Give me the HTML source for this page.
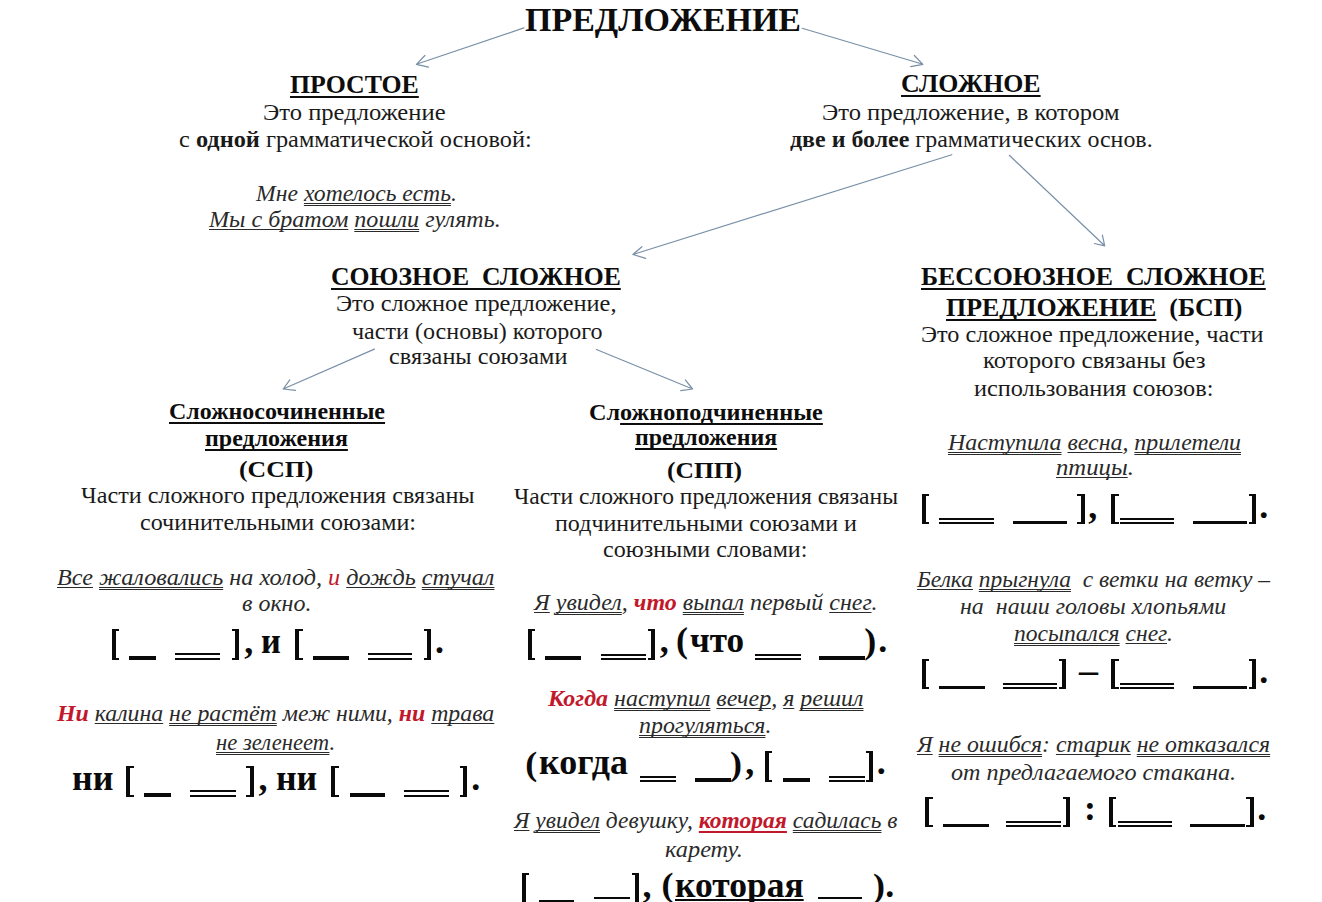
<!DOCTYPE html>
<html lang="ru"><head><meta charset="utf-8"><title>Предложение</title><style>
html,body{margin:0;padding:0;}
body{width:1322px;height:902px;background:#fff;position:relative;overflow:hidden;font-family:"Liberation Serif",serif;color:#111;}
.l{position:absolute;white-space:nowrap;line-height:1;transform-origin:0 0;margin:0;}
.n{font-weight:normal;color:#1a1a1a;}
.b{font-weight:bold;color:#0d0d0d;}
.i{font-style:italic;color:#2a2a2a;}
.i b{font-weight:bold;}
u{text-decoration:none;}
u.h{text-decoration:underline;text-decoration-thickness:2px;text-underline-offset:3px;text-decoration-skip-ink:none;}
u.h2{text-decoration:underline;text-decoration-thickness:2px;text-underline-offset:4.5px;text-decoration-skip-ink:none;}
u.s{text-decoration:underline;text-decoration-thickness:1px;text-underline-offset:1.8px;text-decoration-skip-ink:none;}
u.d{text-decoration:underline double;text-decoration-thickness:1px;text-underline-offset:1.5px;text-decoration-skip-ink:none;}
.r{color:#c2182b;}
.ru{text-decoration:underline;text-decoration-thickness:2px;text-underline-offset:3.2px;text-decoration-skip-ink:none;}
.g{font-weight:bold;color:#0a0a0a;}
.gu{text-decoration:underline;text-decoration-thickness:2px;text-underline-offset:2px;text-decoration-skip-ink:none;}
.bar{position:absolute;background:#0a0a0a;}
.brk{position:absolute;width:7.6px;box-sizing:border-box;border-top:2px solid #0a0a0a;border-bottom:2px solid #0a0a0a;}
.dbl{position:absolute;border-top:2px solid #0a0a0a;border-bottom:2px solid #0a0a0a;box-sizing:border-box;}
svg{position:absolute;left:0;top:0;}
</style></head><body>
<svg width="1322" height="902" viewBox="0 0 1322 902"><g stroke="#7890a8" stroke-width="1.2" fill="none" stroke-linecap="round" stroke-linejoin="round"><path d="M523.9 27.9L416.4 64.3M424.9 55.5L416.4 64.3L428.6 67.1"/><path d="M802.2 28.3L922.9 64.3M914.4 55.5L922.9 64.3L910.7 66.6"/><path d="M951.8 154.7L632.9 254.5M641.9 246.7L632.9 254.5L645.7 258.3"/><path d="M1009.3 155.3L1104.7 245.8M1102.4 235.1L1104.7 245.8L1094.4 243.5"/><path d="M374.4 349.1L283.2 389.0M289.8 379.9L283.2 389.0L295.4 390.4"/><path d="M596.4 349.5L692.6 389.0M685.3 379.9L692.6 389.0L680.8 390.6"/></g></svg>
<div class="l b" id="t0" style="left:524.73px;top:3.01px;font-size:33.80px;transform:scaleX(1.0057);">ПРЕДЛОЖЕНИЕ</div>
<div class="l b" id="a1" style="left:290.10px;top:71.81px;font-size:26.20px;transform:scaleX(0.9849);"><u class=h>ПРОСТОЕ</u></div>
<div class="l n" id="a2" style="left:263.28px;top:101.90px;font-size:22.50px;transform:scaleX(1.0937);">Это предложение</div>
<div class="l n" id="a3" style="left:179.20px;top:129.31px;font-size:22.50px;transform:scaleX(1.0813);">с <b>одной</b> грамматической основой:</div>
<div class="l i" id="a4" style="left:255.93px;top:183.21px;font-size:22.50px;transform:scaleX(1.0522);">Мне <u class=d>хотелось есть</u>.</div>
<div class="l i" id="a5" style="left:209.04px;top:209.40px;font-size:22.50px;transform:scaleX(1.0710);"><u class=s>Мы с братом</u> <u class=d>пошли</u> гулять.</div>
<div class="l b" id="b1" style="left:900.70px;top:71.21px;font-size:26.20px;transform:scaleX(0.9859);"><u class=h>СЛОЖНОЕ</u></div>
<div class="l n" id="b2" style="left:821.81px;top:101.61px;font-size:22.50px;transform:scaleX(1.0927);">Это предложение, в котором</div>
<div class="l n" id="b3" style="left:789.62px;top:128.90px;font-size:22.50px;transform:scaleX(1.0635);"><b>две и более</b> грамматических основ.</div>
<div class="l b" id="c1" style="left:331.20px;top:263.61px;font-size:26.20px;transform:scaleX(0.9807);"><u class=h>СОЮЗНОЕ&nbsp; СЛОЖНОЕ</u></div>
<div class="l n" id="c2" style="left:336.42px;top:293.11px;font-size:22.50px;transform:scaleX(1.0822);">Это сложное предложение,</div>
<div class="l n" id="c3" style="left:351.64px;top:320.61px;font-size:22.50px;transform:scaleX(1.0703);">части (основы) которого</div>
<div class="l n" id="c4" style="left:388.62px;top:346.01px;font-size:22.50px;transform:scaleX(1.0777);">связаны союзами</div>
<div class="l b" id="d1" style="left:921.40px;top:264.21px;font-size:26.20px;transform:scaleX(0.9874);"><u class=h>БЕССОЮЗНОЕ&nbsp; СЛОЖНОЕ</u></div>
<div class="l b" id="d2" style="left:945.60px;top:295.01px;font-size:26.20px;transform:scaleX(0.9892);"><u class=h>ПРЕДЛОЖЕНИЕ</u>&nbsp; (БСП)</div>
<div class="l n" id="d3" style="left:921.17px;top:323.81px;font-size:22.50px;transform:scaleX(1.0773);">Это сложное предложение, части</div>
<div class="l n" id="d4" style="left:982.96px;top:350.41px;font-size:22.50px;transform:scaleX(1.1010);">которого связаны без</div>
<div class="l n" id="d5" style="left:974.25px;top:378.00px;font-size:22.50px;transform:scaleX(1.0793);">использования союзов:</div>
<div class="l i" id="d6" style="left:947.57px;top:432.30px;font-size:22.50px;transform:scaleX(1.0605);"><u class=d>Наступила</u> <u class=s>весна</u>, <u class=d>прилетели</u></div>
<div class="l i" id="d7" style="left:1055.55px;top:457.40px;font-size:22.50px;transform:scaleX(1.0988);"><u class=s>птицы</u>.</div>
<div class="l i" id="d9" style="left:916.86px;top:569.31px;font-size:22.50px;transform:scaleX(1.0418);"><u class=s>Белка</u> <u class=d>прыгнула</u>&nbsp; с ветки на ветку –</div>
<div class="l i" id="d10" style="left:960.00px;top:596.41px;font-size:22.50px;transform:scaleX(1.0635);">на&nbsp; наши головы хлопьями</div>
<div class="l i" id="d11" style="left:1014.41px;top:623.11px;font-size:22.50px;transform:scaleX(1.0479);"><u class=d>посыпался</u> <u class=s>снег</u>.</div>
<div class="l i" id="d13" style="left:917.27px;top:734.31px;font-size:22.50px;transform:scaleX(1.0581);"><u class=s>Я</u> <u class=d>не ошибся</u>: <u class=s>старик</u> <u class=d>не отказался</u></div>
<div class="l i" id="d14" style="left:950.60px;top:761.71px;font-size:22.50px;transform:scaleX(1.0735);">от предлагаемого стакана.</div>
<div class="l b" id="e1" style="left:168.72px;top:400.41px;font-size:23.00px;transform:scaleX(1.0418);"><u class=h>Сложносочиненные</u></div>
<div class="l b" id="e2" style="left:204.58px;top:427.10px;font-size:23.00px;transform:scaleX(1.0434);"><u class=h>предложения</u></div>
<div class="l b" id="e3" style="left:239.18px;top:457.21px;font-size:24.00px;transform:scaleX(1.0736);">(ССП)</div>
<div class="l n" id="e4" style="left:80.50px;top:485.00px;font-size:22.50px;transform:scaleX(1.0732);">Части сложного предложения связаны</div>
<div class="l n" id="e5" style="left:139.63px;top:512.00px;font-size:22.50px;transform:scaleX(1.0700);">сочинительными союзами:</div>
<div class="l i" id="e6" style="left:56.58px;top:566.60px;font-size:22.50px;transform:scaleX(1.0761);"><u class=s>Все</u> <u class=d>жаловались</u> на холод, <span class=r>и</span> <u class=s>дождь</u> <u class=d>стучал</u></div>
<div class="l i" id="e7" style="left:241.69px;top:592.80px;font-size:22.50px;transform:scaleX(1.0651);">в окно.</div>
<div class="l i" id="e9" style="left:56.75px;top:702.50px;font-size:22.50px;transform:scaleX(1.0582);"><b class=r>Ни</b> <u class=s>калина</u> <u class=d>не растёт</u> меж ними, <b class=r>ни</b> <u class=s>трава</u></div>
<div class="l i" id="e10" style="left:215.70px;top:731.60px;font-size:22.50px;transform:scaleX(1.0067);"><u class=d>не зеленеет</u>.</div>
<div class="l b" id="f1" style="left:588.60px;top:400.81px;font-size:23.00px;transform:scaleX(1.0537);">Сл<u class=h>ожноподчиненные</u></div>
<div class="l b" id="f2" style="left:635.28px;top:426.21px;font-size:23.00px;transform:scaleX(1.0376);"><u class=h>предложения</u></div>
<div class="l b" id="f3" style="left:667.43px;top:458.01px;font-size:24.00px;transform:scaleX(1.0626);">(СПП)</div>
<div class="l n" id="f4" style="left:513.74px;top:485.60px;font-size:22.50px;transform:scaleX(1.0471);">Части сложного предложения связаны</div>
<div class="l n" id="f5" style="left:554.62px;top:512.80px;font-size:22.50px;transform:scaleX(1.0676);">подчинительными союзами и</div>
<div class="l n" id="f6" style="left:602.93px;top:539.01px;font-size:22.50px;transform:scaleX(1.0684);">союзными словами:</div>
<div class="l i" id="f7" style="left:533.98px;top:592.31px;font-size:22.50px;transform:scaleX(1.0666);"><u class=s>Я</u> <u class=d>увидел</u>, <b class=r>что</b> <u class=d>выпал</u> первый <u class=s>снег</u>.</div>
<div class="l i" id="f9" style="left:547.93px;top:688.01px;font-size:22.50px;transform:scaleX(1.0655);"><b class=r>Когда</b> <u class=d>наступил</u> <u class=s>вечер</u>, <u class=s>я</u> <u class=d>решил</u></div>
<div class="l i" id="f10" style="left:639.41px;top:714.50px;font-size:22.50px;transform:scaleX(1.0615);"><u class=d>прогуляться</u>.</div>
<div class="l i" id="f12" style="left:514.44px;top:809.81px;font-size:22.50px;transform:scaleX(1.0444);"><u class=s>Я</u> <u class=d>увидел</u> девушку, <b class='r ru'>которая</b> <u class=d>садилась</u> в</div>
<div class="l i" id="f13" style="left:665.06px;top:838.91px;font-size:22.50px;transform:scaleX(1.0821);">карету.</div>
<div class="brk" style="left:111.5px;top:628.7px;height:30.9px;border-left:4px solid #0a0a0a"></div>
<div class="brk" style="left:231.5px;top:628.7px;height:30.9px;border-right:4px solid #0a0a0a"></div>
<div class="l g" id="e8_2" style="left:244.34px;top:622.51px;font-size:36.00px;">,</div>
<div class="l g" id="e8_3" style="left:260.80px;top:622.51px;font-size:36.00px;transform:scale(0.9566,1.0000);">и</div>
<div class="brk" style="left:295.1px;top:628.7px;height:30.9px;border-left:4px solid #0a0a0a"></div>
<div class="brk" style="left:423.7px;top:628.7px;height:30.9px;border-right:4px solid #0a0a0a"></div>
<div class="l g" id="e8_6" style="left:435.02px;top:622.51px;font-size:36.00px;">.</div>
<div class="bar" style="left:128.7px;top:656.0px;width:27.6px;height:3.6px"></div>
<div class="dbl" style="left:175.0px;top:653.4px;width:45.0px;height:6.2px"></div>
<div class="bar" style="left:312.8px;top:656.0px;width:36.2px;height:3.6px"></div>
<div class="dbl" style="left:367.7px;top:653.4px;width:44.8px;height:6.2px"></div>
<div class="l g" id="e11_0" style="left:72.31px;top:759.61px;font-size:36.00px;transform:scale(0.9977,1.0000);">ни</div>
<div class="brk" style="left:126.2px;top:766.3px;height:30.3px;border-left:4px solid #0a0a0a"></div>
<div class="brk" style="left:246.0px;top:766.3px;height:30.3px;border-right:4px solid #0a0a0a"></div>
<div class="l g" id="e11_3" style="left:258.57px;top:759.61px;font-size:36.00px;">,</div>
<div class="l g" id="e11_4" style="left:275.92px;top:759.61px;font-size:36.00px;transform:scale(0.9942,1.0000);">ни</div>
<div class="brk" style="left:331.2px;top:766.3px;height:30.3px;border-left:4px solid #0a0a0a"></div>
<div class="brk" style="left:459.7px;top:766.3px;height:30.3px;border-right:4px solid #0a0a0a"></div>
<div class="l g" id="e11_7" style="left:471.17px;top:759.61px;font-size:36.00px;">.</div>
<div class="bar" style="left:144.0px;top:793.0px;width:27.2px;height:3.6px"></div>
<div class="dbl" style="left:190.3px;top:790.4px;width:46.1px;height:6.2px"></div>
<div class="bar" style="left:349.5px;top:793.0px;width:35.3px;height:3.6px"></div>
<div class="dbl" style="left:404.0px;top:790.4px;width:44.9px;height:6.2px"></div>
<div class="brk" style="left:527.9px;top:628.6px;height:31.2px;border-left:4px solid #0a0a0a"></div>
<div class="brk" style="left:647.8px;top:628.6px;height:31.2px;border-right:4px solid #0a0a0a"></div>
<div class="l g" id="f8_2" style="left:659.82px;top:622.21px;font-size:36.00px;">,</div>
<div class="l g" id="f8_3" style="left:676.01px;top:622.85px;font-size:36.00px;transform:scale(1.0000,0.9786);">(</div>
<div class="l g" id="f8_4" style="left:689.96px;top:622.21px;font-size:36.00px;transform:scale(0.9761,1.0000);">что</div>
<div class="l g" id="f8_5" style="left:864.28px;top:622.80px;font-size:36.00px;transform:scale(1.0000,0.9936);">)</div>
<div class="l g" id="f8_6" style="left:878.34px;top:622.21px;font-size:36.00px;">.</div>
<div class="bar" style="left:545.3px;top:656.2px;width:36.0px;height:3.6px"></div>
<div class="dbl" style="left:600.5px;top:653.6px;width:45.8px;height:6.2px"></div>
<div class="dbl" style="left:755.0px;top:653.6px;width:46.2px;height:6.2px"></div>
<div class="bar" style="left:818.9px;top:656.2px;width:46.6px;height:3.6px"></div>
<div class="l g" id="f11_0" style="left:525.32px;top:746.87px;font-size:36.00px;transform:scale(1.0000,0.9288);">(</div>
<div class="l g" id="f11_1" style="left:538.71px;top:744.01px;font-size:36.00px;transform:scale(0.9992,1.0000);">когда</div>
<div class="l g" id="f11_2" style="left:730.06px;top:746.17px;font-size:36.00px;transform:scale(1.0000,0.9570);">)</div>
<div class="l g" id="f11_3" style="left:745.34px;top:744.01px;font-size:36.00px;">,</div>
<div class="brk" style="left:764.9px;top:751.3px;height:30.5px;border-left:4px solid #0a0a0a"></div>
<div class="brk" style="left:865.5px;top:751.3px;height:30.5px;border-right:4px solid #0a0a0a"></div>
<div class="l g" id="f11_6" style="left:876.64px;top:744.01px;font-size:36.00px;">.</div>
<div class="dbl" style="left:640.3px;top:775.6px;width:35.8px;height:6.2px"></div>
<div class="bar" style="left:695.0px;top:778.2px;width:35.8px;height:3.6px"></div>
<div class="bar" style="left:783.0px;top:778.2px;width:27.3px;height:3.6px"></div>
<div class="dbl" style="left:828.9px;top:775.6px;width:36.3px;height:6.2px"></div>
<div class="brk" style="left:521.6px;top:873.4px;height:30.8px;border-left:4px solid #0a0a0a"></div>
<div class="brk" style="left:631.8px;top:873.4px;height:30.8px;border-right:4px solid #0a0a0a"></div>
<div class="l g" id="f14_2" style="left:642.61px;top:867.21px;font-size:36.00px;">,</div>
<div class="l g" id="f14_3" style="left:661.38px;top:867.05px;font-size:36.00px;transform:scale(1.0000,0.9500);">(</div>
<div class="l g gu" id="f14_4" style="left:675.30px;top:867.21px;font-size:36.00px;transform:scale(0.9862,1.0000);">которая</div>
<div class="l g" id="f14_5" style="left:873.12px;top:867.84px;font-size:36.00px;transform:scale(1.0000,0.9500);">)</div>
<div class="l g" id="f14_6" style="left:885.17px;top:867.21px;font-size:36.00px;">.</div>
<div class="bar" style="left:539.2px;top:900.0px;width:35.1px;height:3.6px"></div>
<div class="dbl" style="left:594.0px;top:897.4px;width:36.3px;height:6.2px"></div>
<div class="dbl" style="left:817.9px;top:897.4px;width:44.5px;height:6.2px"></div>
<div class="brk" style="left:921.5px;top:493.9px;height:30.6px;border-left:4px solid #0a0a0a"></div>
<div class="brk" style="left:1077.4px;top:493.9px;height:30.6px;border-right:4px solid #0a0a0a"></div>
<div class="l g" id="d8_2" style="left:1088.34px;top:487.51px;font-size:36.00px;">,</div>
<div class="brk" style="left:1111.3px;top:493.9px;height:30.6px;border-left:4px solid #0a0a0a"></div>
<div class="brk" style="left:1248.8px;top:493.9px;height:30.6px;border-right:4px solid #0a0a0a"></div>
<div class="l g" id="d8_5" style="left:1259.17px;top:487.51px;font-size:36.00px;">.</div>
<div class="dbl" style="left:938.7px;top:518.3px;width:54.9px;height:6.2px"></div>
<div class="bar" style="left:1012.8px;top:520.9px;width:54.6px;height:3.6px"></div>
<div class="dbl" style="left:1120.2px;top:518.3px;width:53.4px;height:6.2px"></div>
<div class="bar" style="left:1192.8px;top:520.9px;width:54.6px;height:3.6px"></div>
<div class="brk" style="left:921.5px;top:658.9px;height:30.6px;border-left:4px solid #0a0a0a"></div>
<div class="brk" style="left:1058.7px;top:658.9px;height:30.6px;border-right:4px solid #0a0a0a"></div>
<div class="l g" id="d12_2" style="left:1079.00px;top:651.90px;font-size:36.00px;transform:scale(1.0538,1.0000);">–</div>
<div class="brk" style="left:1111.3px;top:658.9px;height:30.6px;border-left:4px solid #0a0a0a"></div>
<div class="brk" style="left:1248.8px;top:658.9px;height:30.6px;border-right:4px solid #0a0a0a"></div>
<div class="l g" id="d12_5" style="left:1259.17px;top:652.51px;font-size:36.00px;">.</div>
<div class="bar" style="left:938.7px;top:685.9px;width:46.3px;height:3.6px"></div>
<div class="dbl" style="left:1002.7px;top:683.3px;width:54.6px;height:6.2px"></div>
<div class="dbl" style="left:1120.2px;top:683.3px;width:53.4px;height:6.2px"></div>
<div class="bar" style="left:1192.8px;top:685.9px;width:54.6px;height:3.6px"></div>
<div class="brk" style="left:925.1px;top:796.5px;height:30.6px;border-left:4px solid #0a0a0a"></div>
<div class="brk" style="left:1062.6px;top:796.5px;height:30.6px;border-right:4px solid #0a0a0a"></div>
<div class="l g" id="d15_2" style="left:1083.89px;top:790.11px;font-size:36.00px;">:</div>
<div class="brk" style="left:1108.7px;top:796.5px;height:30.6px;border-left:4px solid #0a0a0a"></div>
<div class="brk" style="left:1246.4px;top:796.5px;height:30.6px;border-right:4px solid #0a0a0a"></div>
<div class="l g" id="d15_5" style="left:1257.34px;top:790.11px;font-size:36.00px;">.</div>
<div class="bar" style="left:942.8px;top:823.5px;width:46.0px;height:3.6px"></div>
<div class="dbl" style="left:1006.3px;top:820.9px;width:54.9px;height:6.2px"></div>
<div class="dbl" style="left:1117.6px;top:820.9px;width:54.6px;height:6.2px"></div>
<div class="bar" style="left:1190.3px;top:823.5px;width:54.6px;height:3.6px"></div>
</body></html>
